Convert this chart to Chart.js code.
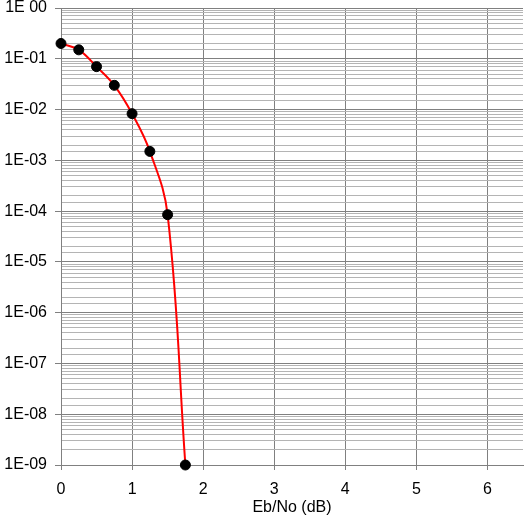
<!DOCTYPE html>
<html>
<head>
<meta charset="utf-8">
<script src="https://cdn.jsdelivr.net/npm/chart.js@4"></script>
<style>
  html,body{margin:0;padding:0;background:#fff;}
  #wrap{width:531px;height:524px;}
</style>
</head>
<body>
<div id="wrap"><canvas id="berChart"></canvas></div>
<script>
// Eb/No (dB) vs bit error rate
const ebNo = [0, 0.25, 0.5, 0.75, 1.0, 1.25, 1.5, 1.75];
const ber  = [0.2, 0.15, 0.07, 0.03, 0.0083, 0.0015, 8.5e-5, 1e-9];
const xTicks = [0, 1, 2, 3, 4, 5, 6];

const MAJOR = '#808080', MINOR = '#b4b4b4';
const isDecade = v => Math.abs(Math.log10(v) - Math.round(Math.log10(v))) < 1e-6;

// Excel style "1E-03" / "1E 00"
function expLabel(v){
  const e = Math.round(Math.log10(v));
  if(e === 0) return '1E 00';
  const s = String(Math.abs(e)).padStart(2,'0');
  return '1E' + (e < 0 ? '-' : '+') + s;
}

Chart.defaults.font.family = '"Liberation Sans", Arial, sans-serif';
Chart.defaults.font.size = 16;
Chart.defaults.color = '#000';

new Chart(document.getElementById('berChart').getContext('2d'), {
  type:'line',
  data:{
    datasets:[{
      data: ebNo.map((x,i)=>({x, y: ber[i]})),
      borderColor:'#ff0000',
      borderWidth:2,
      tension:0.4,
      clip:false,
      pointRadius:5,
      pointBackgroundColor:'#000',
      pointBorderColor:'#000',
      pointBorderWidth:1
    }]
  },
  options:{
    responsive:true,
    maintainAspectRatio:false,
    animation:false,
    layout:{padding:{top:8, right:8, left:0, bottom:0}},
    plugins:{legend:{display:false}, tooltip:{enabled:false}},
    scales:{
      x:{
        type:'linear', min:0, max:6.5,
        afterBuildTicks: s => { s.ticks = xTicks.map(v=>({value:v})); },
        ticks:{includeBounds:false, padding:10},
        grid:{color:MAJOR, tickColor:MAJOR, tickLength:5, lineWidth:1},
        border:{color:MAJOR},
        title:{display:true, text:'Eb/No (dB)', padding:{top:0, bottom:7}},
        afterFit: s => { s.height = 59; }
      },
      y:{
        type:'logarithmic', min:1e-9, max:1,
        ticks:{
          autoSkip:false,
          padding:8,
          callback:(v)=> isDecade(v) ? expLabel(v) : ''
        },
        grid:{
          color: c => isDecade(c.tick.value) ? MAJOR : MINOR,
          tickColor: c => isDecade(c.tick.value) ? MAJOR : 'rgba(0,0,0,0)',
          tickLength:6, lineWidth:1
        },
        border:{color:MAJOR},
        afterFit: s => { s.width = 61; s.paddingTop = 0; s.paddingBottom = 0; }
      }
    }
  }
});
</script>
</body>
</html>
